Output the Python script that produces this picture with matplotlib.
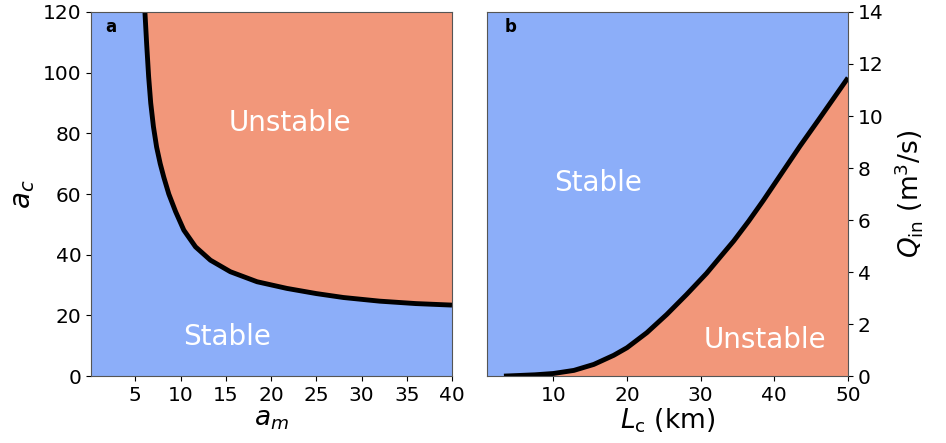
import numpy as np
import matplotlib
matplotlib.use("Agg")
import matplotlib.pyplot as plt

# panel a: stability boundary a_c(a_m)
am = [6.05, 6.25, 6.47, 6.7, 7.0, 7.35, 7.75, 8.15, 8.7, 9.45, 10.36, 11.65,
      13.3, 15.5, 18.45, 21.75, 25.0, 28.0, 32.0, 36.0, 40.0]
ac = [120.5, 109.5, 98.7, 90.0, 82.2, 75.5, 70.0, 65.5, 60.0, 54.2, 48.1, 42.6,
      38.2, 34.4, 31.1, 28.9, 27.2, 25.9, 24.7, 23.9, 23.4]

# panel b: critical inflow Q_in(L_c)
Lc = [3.3, 5.0, 7.5, 10.0, 12.8, 15.5, 18.2, 20.0, 22.7, 25.4, 28.1, 30.8,
      32.6, 34.5, 36.5, 38.5, 41.0, 43.5, 46.0, 48.0, 50.0]
Qin = [0.0, 0.02, 0.05, 0.1, 0.22, 0.45, 0.8, 1.09, 1.67, 2.37, 3.14, 3.95,
       4.56, 5.2, 5.95, 6.75, 7.8, 8.85, 9.85, 10.66, 11.47]

blue = "#8CAEF9"
red = "#F2977A"

plt.rcParams['font.family'] = ['DejaVu Sans']
fig = plt.figure(figsize=(9.46, 4.43), dpi=100)

ax1 = fig.add_axes([0.0962, 0.151, 0.3816, 0.822])
ax1.set_facecolor(blue)
ax1.fill_between(am, ac, 125, color=red, lw=0)
ax1.fill_between([am[-1], 40.5], [ac[-1], ac[-1]], 125, color=red, lw=0)
ax1.plot(am, ac, color="black", lw=3.5, solid_capstyle="butt", solid_joinstyle="round")
ax1.set_xlim(0.1, 40)
ax1.set_ylim(0, 120)
ax1.set_xticks([5, 10, 15, 20, 25, 30, 35, 40])
ax1.set_yticks([0, 20, 40, 60, 80, 100, 120])
ax1.tick_params(labelsize=14.5)
ax1.set_xlabel("$a_m$", fontsize=19, labelpad=1)
ax1.set_ylabel("$a_c$", fontsize=20, labelpad=4)
ax1.text(22.1, 83.4, "Unstable", color="white", fontsize=20, ha="center", va="center")
ax1.text(15.1, 12.9, "Stable", color="white", fontsize=20, ha="center", va="center")
ax1.text(0.055, 0.96, "a", transform=ax1.transAxes, fontsize=12, fontweight="bold",
         ha="center", va="center")

ax2 = fig.add_axes([0.5148, 0.151, 0.3816, 0.822])
ax2.set_facecolor(blue)
ax2.fill_between(Lc, 0, Qin, color=red, lw=0)
ax2.plot(Lc, Qin, color="black", lw=3.5, solid_capstyle="butt", solid_joinstyle="round")
ax2.set_xlim(1.0, 50)
ax2.set_ylim(0, 14)
ax2.set_xticks([10, 20, 30, 40, 50])
ax2.set_yticks([0, 2, 4, 6, 8, 10, 12, 14])
ax2.yaxis.tick_right()
ax2.yaxis.set_label_position("right")
ax2.tick_params(labelsize=14.5)
ax2.set_xlabel(r"$L_{\rm c}$ (km)", fontsize=19, labelpad=1)
ax2.set_ylabel(r"$Q_{\rm in}$ (m$^3$/s)", fontsize=19, labelpad=6)
ax2.text(16.1, 7.42, "Stable", color="white", fontsize=20, ha="center", va="center")
ax2.text(38.7, 1.38, "Unstable", color="white", fontsize=20, ha="center", va="center")
ax2.text(0.064, 0.96, "b", transform=ax2.transAxes, fontsize=12, fontweight="bold",
         ha="center", va="center")

for ax in (ax1, ax2):
    for s in ax.spines.values():
        s.set_color("#555555")

fig.savefig("out.png", dpi=100)
